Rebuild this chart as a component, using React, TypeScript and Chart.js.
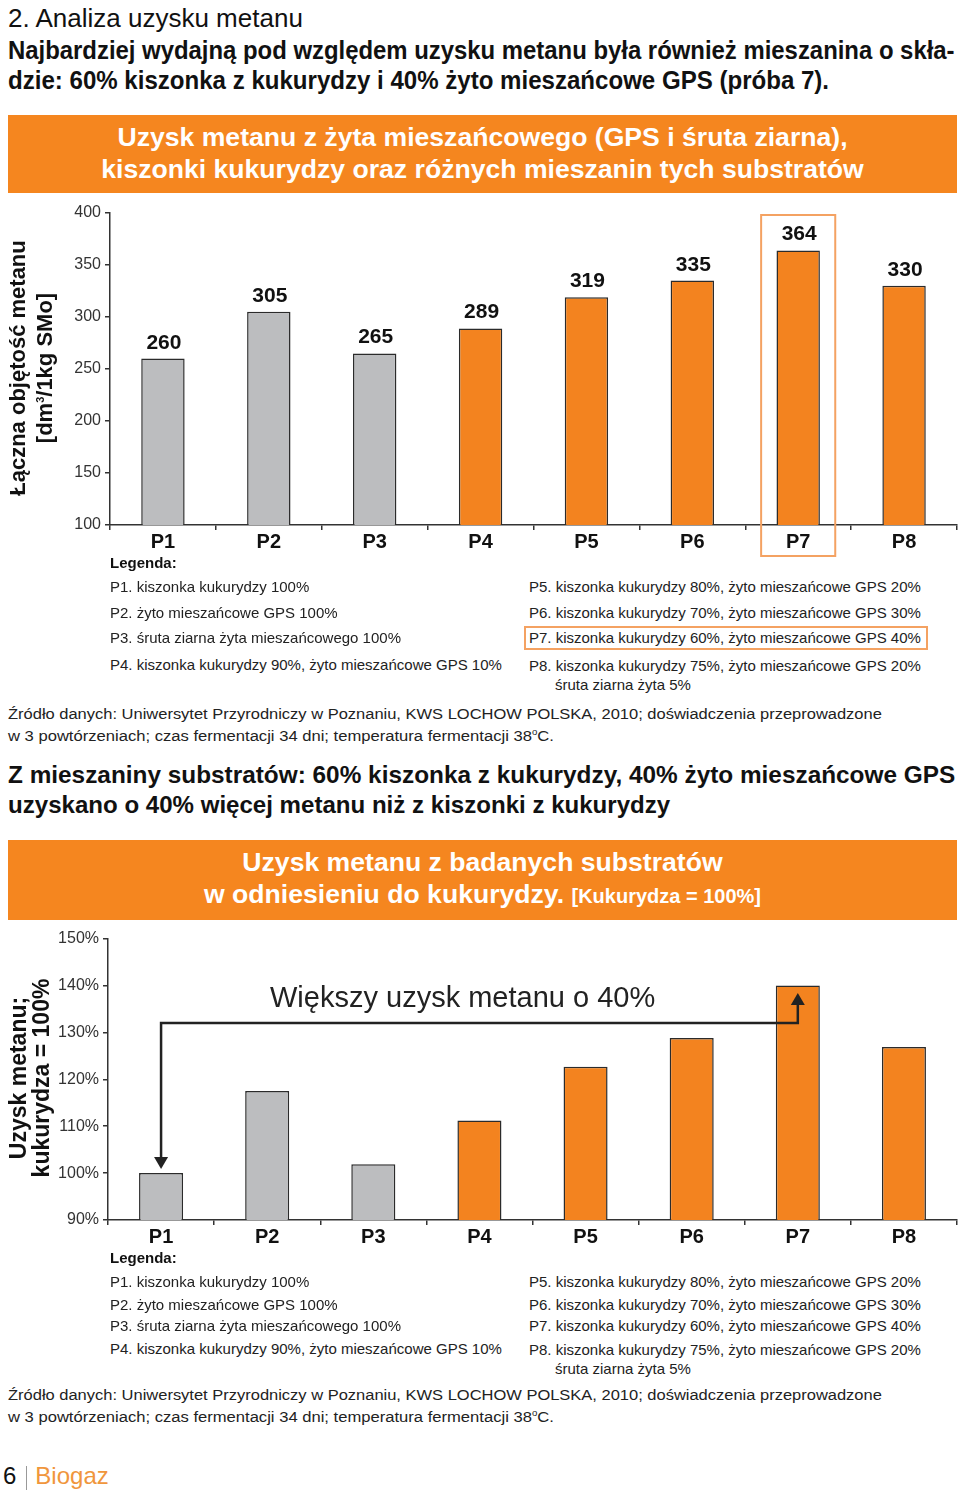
import React, { useEffect, useLayoutEffect, useRef } from 'react';
import { Chart, registerables } from 'chart.js';

Chart.register(...registerables);

const FONT = '"Liberation Sans", Arial, Helvetica, sans-serif';

const categories = ['P1', 'P2', 'P3', 'P4', 'P5', 'P6', 'P7', 'P8'];
const methaneValues = [260, 305, 265, 289, 319, 335, 364, 330];
const relativeValues = [100, 117.5, 101.9, 111.2, 122.7, 128.8, 140, 126.9];
const barKinds = ['gray', 'gray', 'gray', 'orange', 'orange', 'orange', 'orange', 'orange'];
const methaneTicks = [100, 150, 200, 250, 300, 350, 400];
const relativeTicks = [90, 100, 110, 120, 130, 140, 150];
const highlightIndex = 6;
const arrowFrom = 0;
const arrowTo = 6;
const arrowLevel = 132;
const arrowTipTop = 138.4;

const legendLeft = [
  'P1. kiszonka kukurydzy 100%',
  'P2. żyto mieszańcowe GPS 100%',
  'P3. śruta ziarna żyta mieszańcowego 100%',
  'P4. kiszonka kukurydzy 90%, żyto mieszańcowe GPS 10%',
];
const legendRight = [
  'P5. kiszonka kukurydzy 80%, żyto mieszańcowe GPS 20%',
  'P6. kiszonka kukurydzy 70%, żyto mieszańcowe GPS 30%',
  'P7. kiszonka kukurydzy 60%, żyto mieszańcowe GPS 40%',
  'P8. kiszonka kukurydzy 75%, żyto mieszańcowe GPS 20%',
];
const legendExtra = 'śruta ziarna żyta 5%';

const ORANGE = '#f3831f';
const HEAD_ORANGE = '#f5861f';
const GRAY = '#bcbdbf';
const DARK = '#2b2b2b';

const colorFor = (k: string) => (k === 'gray' ? GRAY : ORANGE);

function baseOptions(min: number, max: number, ticks: number[], yWidth: number, topPad: number, fmt: (v: number) => string) {
  return {
    responsive: false,
    animation: false as const,
    layout: { padding: { top: topPad, right: 3, left: 0, bottom: 0 } },
    plugins: { legend: { display: false }, tooltip: { enabled: false }, title: { display: false } },
    scales: {
      x: {
        offset: true,
        grid: { display: true, drawOnChartArea: false, drawTicks: true, tickLength: 5, color: '#333', lineWidth: 1.5, offset: true },
        border: { display: true, color: '#333', width: 1.5 },
        ticks: { color: '#111', padding: 0, font: { family: FONT, size: 20, weight: 'bold' as const } },
        afterFit: (s: any) => { s.height = 35; },
      },
      y: {
        min, max,
        afterBuildTicks: (s: any) => { s.ticks = ticks.map((v) => ({ value: v })); },
        grid: { display: true, drawOnChartArea: false, drawTicks: true, tickLength: 5, color: '#333', lineWidth: 1.5 },
        border: { display: true, color: '#333', width: 1.5 },
        ticks: { color: '#333', padding: 4, font: { family: FONT, size: 16 }, callback: (v: any) => fmt(Number(v)) },
        afterFit: (s: any) => { s.width = yWidth; },
      },
    },
  };
}

function MethaneChart() {
  const ref = useRef<HTMLCanvasElement | null>(null);
  useEffect(() => {
    if (!ref.current) return;
    const labelsPlugin = {
      id: 'valueLabels',
      afterDatasetsDraw(chart: any) {
        const ctx = chart.ctx;
        const meta = chart.getDatasetMeta(0);
        ctx.save();
        ctx.font = `bold 21px ${FONT}`;
        ctx.fillStyle = '#111';
        ctx.textAlign = 'center';
        ctx.textBaseline = 'alphabetic';
        meta.data.forEach((bar: any, i: number) => {
          ctx.fillText(String(methaneValues[i]), bar.x + 1, bar.y - 10);
        });
        ctx.restore();
      },
      afterDraw(chart: any) {
        const ctx = chart.ctx;
        const x = chart.scales.x.getPixelForValue(highlightIndex);
        const w = chart.scales.x.width / categories.length * 0.7;
        ctx.save();
        ctx.strokeStyle = '#f4a262';
        ctx.lineWidth = 2;
        const top = chart.chartArea.top + 2;
        const bottom = chart.height - 4;
        ctx.strokeRect(x - w / 2, top, w, bottom - top);
        ctx.restore();
      },
    };
    const chart = new Chart(ref.current, {
      type: 'bar',
      data: {
        labels: categories,
        datasets: [{
          data: methaneValues,
          backgroundColor: barKinds.map(colorFor),
          borderColor: DARK,
          borderWidth: 1.5,
          barPercentage: 0.41,
          categoryPercentage: 1,
        }],
      },
      options: baseOptions(100, 400, methaneTicks, 110, 18, (v) => String(v)) as any,
      plugins: [labelsPlugin],
    });
    return () => chart.destroy();
  }, []);
  return <canvas ref={ref} width={960} height={365} style={{ position: 'absolute', left: 0, top: 195, width: 960, height: 365 }} />;
}

function RelativeChart() {
  const ref = useRef<HTMLCanvasElement | null>(null);
  useEffect(() => {
    if (!ref.current) return;
    const arrowPlugin = {
      id: 'arrow',
      afterDatasetsDraw(chart: any) {
        const ctx = chart.ctx;
        const xs = chart.scales.x;
        const ys = chart.scales.y;
        const x1 = xs.getPixelForValue(arrowFrom);
        const x2 = xs.getPixelForValue(arrowTo);
        const yl = ys.getPixelForValue(arrowLevel);
        const downTip = ys.getPixelForValue(relativeValues[arrowFrom]) - 4;
        const upTip = ys.getPixelForValue(arrowTipTop);
        const hw = 7, hh = 12;
        ctx.save();
        ctx.strokeStyle = '#222';
        ctx.fillStyle = '#222';
        ctx.lineWidth = 2.5;
        ctx.beginPath();
        ctx.moveTo(x1, downTip - hh + 1);
        ctx.lineTo(x1, yl);
        ctx.lineTo(x2, yl);
        ctx.lineTo(x2, upTip + hh - 1);
        ctx.stroke();
        ctx.beginPath();
        ctx.moveTo(x1 - hw, downTip - hh);
        ctx.lineTo(x1 + hw, downTip - hh);
        ctx.lineTo(x1, downTip);
        ctx.closePath();
        ctx.fill();
        ctx.beginPath();
        ctx.moveTo(x2 - hw, upTip + hh);
        ctx.lineTo(x2 + hw, upTip + hh);
        ctx.lineTo(x2, upTip);
        ctx.closePath();
        ctx.fill();
        ctx.restore();
      },
    };
    const chart = new Chart(ref.current, {
      type: 'bar',
      data: {
        labels: categories,
        datasets: [{
          data: relativeValues,
          backgroundColor: barKinds.map(colorFor),
          borderColor: DARK,
          borderWidth: 1.5,
          barPercentage: 0.415,
          categoryPercentage: 1,
        }],
      },
      options: baseOptions(90, 150, relativeTicks, 108, 12, (v) => `${v}%`) as any,
      plugins: [arrowPlugin],
    });
    return () => chart.destroy();
  }, []);
  return <canvas ref={ref} width={960} height={330} style={{ position: 'absolute', left: 0, top: 925, width: 960, height: 330 }} />;
}

const abs = (left: number, centerY: number, extra: React.CSSProperties = {}): React.CSSProperties => ({
  position: 'absolute', left, top: centerY, transform: 'translateY(-50%)', whiteSpace: 'nowrap', ...extra,
});

function FitText({ left, cy, width, style, children }: { left: number; cy: number; width: number; style: React.CSSProperties; children: React.ReactNode }) {
  const ref = useRef<HTMLDivElement | null>(null);
  useLayoutEffect(() => {
    const el = ref.current;
    if (!el) return;
    const w = el.scrollWidth;
    if (w > 0) el.style.transform = `translateY(-50%) scaleX(${width / w})`;
  }, [width]);
  return (
    <div ref={ref} style={{ ...abs(left, cy, style), transformOrigin: 'left center', display: 'inline-block' }}>{children}</div>
  );
}

function RotatedTitle({ cx, cy, text, size }: { cx: number; cy: number; text: React.ReactNode; size: number }) {
  return (
    <div style={{
      position: 'absolute', left: cx, top: cy, transform: 'translate(-50%, -50%) rotate(-90deg)',
      whiteSpace: 'nowrap', fontFamily: FONT, fontWeight: 'bold', fontSize: size, color: '#111', lineHeight: 1,
    }}>{text}</div>
  );
}

function Legend({ top, rows, rowsRight, extraY }: { top: number; rows: number[]; rowsRight: number[]; extraY: number }) {
  const st: React.CSSProperties = { fontFamily: FONT, fontSize: 15, color: '#222', lineHeight: '18px' };
  return (
    <>
      <div style={abs(110, top, { ...st, fontWeight: 'bold', color: '#111' })}>Legenda:</div>
      {legendLeft.map((t, i) => <div key={'l' + i} style={abs(110, rows[i], st)}>{t}</div>)}
      {legendRight.map((t, i) => <div key={'r' + i} style={abs(529, rowsRight[i], st)}>{t}</div>)}
      <div style={abs(555, extraY, st)}>{legendExtra}</div>
    </>
  );
}

function Source({ y1, y2 }: { y1: number; y2: number }) {
  const st: React.CSSProperties = { fontFamily: FONT, fontSize: 15.5, color: '#222', lineHeight: '18px' };
  return (
    <>
      <FitText left={8} cy={y1} width={874} style={st}>Źródło danych: Uniwersytet Przyrodniczy w Poznaniu, KWS LOCHOW POLSKA, 2010; doświadczenia przeprowadzone</FitText>
      <FitText left={8} cy={y2} width={546} style={st}>w 3 powtórzeniach; czas fermentacji 34 dni; temperatura fermentacji 38<sup style={{ fontSize: 9 }}>o</sup>C.</FitText>
    </>
  );
}

export default function App() {
  const boldPara: React.CSSProperties = { fontFamily: FONT, fontWeight: 'bold', fontSize: 25, color: '#111', lineHeight: '28px' };
  const boldHead: React.CSSProperties = { fontFamily: FONT, fontWeight: 'bold', fontSize: 24, color: '#111', lineHeight: '28px' };
  const headerText: React.CSSProperties = { fontFamily: FONT, fontWeight: 'bold', fontSize: 26.6, color: '#fff', lineHeight: '32px', textAlign: 'center' };
  return (
    <div style={{ position: 'absolute', left: 0, top: 0, width: 960, height: 1497, background: '#fff', overflow: 'hidden' }}>
      <div style={abs(8, 18, { fontFamily: FONT, fontSize: 26, color: '#111', lineHeight: '30px' })}>2. Analiza uzysku metanu</div>
      <FitText left={8} cy={50} width={947} style={boldPara}>Najbardziej wydajną pod względem uzysku metanu była również mieszanina o skła-</FitText>
      <FitText left={8} cy={80} width={821} style={boldPara}>dzie: 60% kiszonka z kukurydzy i 40% żyto mieszańcowe GPS (próba 7).</FitText>

      <div style={{ position: 'absolute', left: 8, top: 115, width: 949, height: 78, background: HEAD_ORANGE }} />
      <div style={{ ...headerText, position: 'absolute', left: 8, width: 949, top: 121 }}>
        Uzysk metanu z żyta mieszańcowego (GPS i śruta ziarna),<br />kiszonki kukurydzy oraz różnych mieszanin tych substratów
      </div>

      <MethaneChart />
      <RotatedTitle cx={18} cy={368} size={22} text="Łączna objętość metanu" />
      <RotatedTitle cx={45} cy={368} size={22} text={<span>[dm<sup style={{ fontSize: 11 }}>3</sup>/1kg SMo]</span>} />

      <Legend top={563} rows={[587, 613, 638, 665]} rowsRight={[587, 613, 638, 666]} extraY={685} />
      <div style={{ position: 'absolute', left: 524, top: 626, width: 404, height: 24, border: '2px solid #f4a262', boxSizing: 'border-box' }} />
      <Source y1={714} y2={734} />

      <FitText left={8} cy={775} width={947} style={boldHead}>Z mieszaniny substratów: 60% kiszonka z kukurydzy, 40% żyto mieszańcowe GPS</FitText>
      <FitText left={8} cy={805} width={662} style={boldHead}>uzyskano o 40% więcej metanu niż z kiszonki z kukurydzy</FitText>

      <div style={{ position: 'absolute', left: 8, top: 840, width: 949, height: 80, background: HEAD_ORANGE }} />
      <div style={{ ...headerText, position: 'absolute', left: 8, width: 949, top: 846 }}>
        Uzysk metanu z badanych substratów<br />w odniesieniu do kukurydzy. <span style={{ fontSize: 20 }}>[Kukurydza = 100%]</span>
      </div>

      <RelativeChart />
      <div style={abs(270, 997, { fontFamily: FONT, fontSize: 29, color: '#222', lineHeight: '34px' })}>Większy uzysk metanu o 40%</div>
      <RotatedTitle cx={18} cy={1078} size={23} text="Uzysk metanu;" />
      <RotatedTitle cx={41} cy={1078} size={23} text="kukurydza = 100%" />

      <Legend top={1258} rows={[1282, 1305, 1326, 1349]} rowsRight={[1282, 1305, 1326, 1350]} extraY={1369} />
      <Source y1={1395} y2={1415} />

      <div style={abs(3, 1476, { fontFamily: FONT, fontSize: 24, color: '#111', lineHeight: '28px' })}>
        6<span style={{ display: 'inline-block', width: 1, height: 24, background: '#999', verticalAlign: 'middle', margin: '0 8px 0 10px' }} /><span style={{ color: '#f0963c' }}>Biogaz</span>
      </div>
    </div>
  );
}
